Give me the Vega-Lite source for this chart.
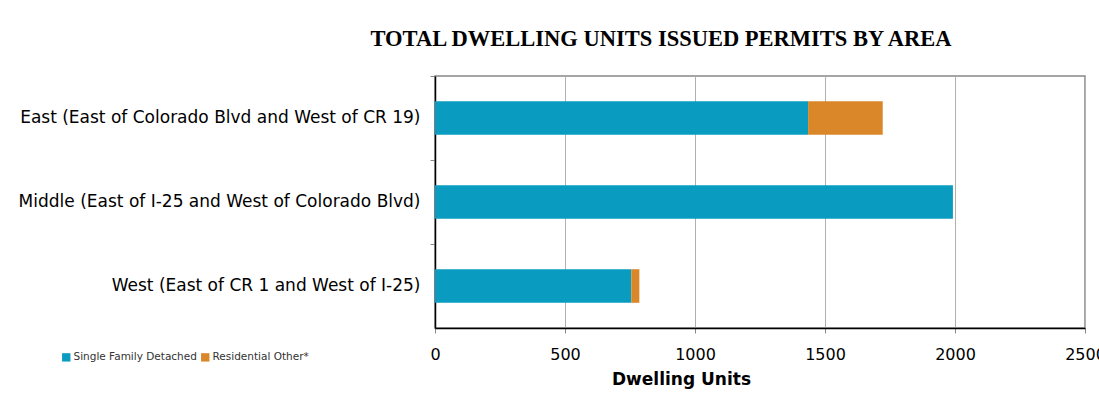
{
  "$schema": "https://vega.github.io/schema/vega-lite/v6.json",
  "autosize": {"type": "none"},
  "width": 650,
  "height": 252,
  "padding": {"left": 435, "top": 76, "right": 14, "bottom": 87},
  "background": "white",
  "title": {
    "text": "TOTAL DWELLING UNITS ISSUED PERMITS BY AREA",
    "font": "Liberation Serif",
    "fontSize": 22.5,
    "fontWeight": "bold",
    "color": "black",
    "anchor": "middle",
    "frame": "group",
    "dx": -99,
    "offset": 25
  },
  "data": {
    "values": [
      {"area": "East (East of Colorado Blvd and West of CR 19)", "type": "Single Family Detached", "units": 1435},
      {"area": "East (East of Colorado Blvd and West of CR 19)", "type": "Residential Other*", "units": 287},
      {"area": "Middle (East of I-25 and West of Colorado Blvd)", "type": "Single Family Detached", "units": 1992},
      {"area": "Middle (East of I-25 and West of Colorado Blvd)", "type": "Residential Other*", "units": 0},
      {"area": "West (East of CR 1 and West of I-25)", "type": "Single Family Detached", "units": 755},
      {"area": "West (East of CR 1 and West of I-25)", "type": "Residential Other*", "units": 31}
    ]
  },
  "mark": {"type": "bar"},
  "encoding": {
    "y": {
      "field": "area",
      "type": "nominal",
      "sort": null,
      "scale": {"paddingInner": 0.6, "paddingOuter": 0.3},
      "axis": {
        "title": null,
        "labelFont": "DejaVu Sans",
        "labelFontSize": 17,
        "labelColor": "black",
        "labelPadding": 10,
        "labelLimit": 500,
        "domainColor": "black",
        "domainWidth": 1.5,
        "tickColor": "#888",
        "tickSize": 5,
        "bandPosition": -0.75,
        "grid": false
      }
    },
    "x": {
      "field": "units",
      "type": "quantitative",
      "stack": "zero",
      "scale": {"domain": [0, 2500], "nice": false},
      "axis": {
        "title": "Dwelling Units",
        "titleFont": "DejaVu Sans",
        "titleFontSize": 17,
        "titleFontWeight": "bold",
        "titleColor": "black",
        "titleX": 246,
        "titlePadding": 9,
        "values": [0, 500, 1000, 1500, 2000, 2500],
        "format": "d",
        "labelFont": "DejaVu Sans",
        "labelFontSize": 16,
        "labelColor": "black",
        "labelPadding": 13,
        "labelFlush": false,
        "labelOverlap": false,
        "domainColor": "black",
        "domainWidth": 1.5,
        "tickColor": "#888",
        "tickSize": 5,
        "grid": true,
        "gridColor": "#b0b0b0",
        "gridWidth": 1
      }
    },
    "order": {"field": "type", "sort": "descending"},
    "color": {
      "field": "type",
      "type": "nominal",
      "scale": {
        "domain": ["Single Family Detached", "Residential Other*"],
        "range": ["#0a9cc0", "#da8729"]
      },
      "legend": {
        "title": null,
        "orient": "none",
        "direction": "horizontal",
        "legendX": -374,
        "legendY": 276,
        "symbolType": "square",
        "symbolSize": 70,
        "symbolStrokeWidth": 0,
        "labelFont": "DejaVu Sans",
        "labelFontSize": 10.5,
        "labelColor": "#333",
        "labelOffset": 2,
        "columnPadding": 3
      }
    }
  },
  "config": {
    "view": {"stroke": "#888", "strokeWidth": 1.5}
  }
}
